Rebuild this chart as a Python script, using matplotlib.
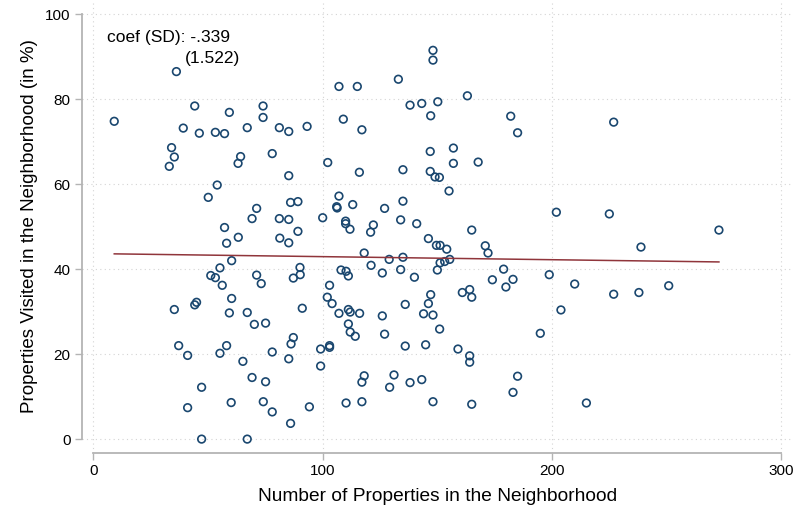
import matplotlib
matplotlib.use("Agg")
import matplotlib.pyplot as plt

plt.rcParams['font.family'] = ['Liberation Sans', 'DejaVu Sans']

# Anzahl Objekte im Viertel / besuchte Objekte (%)
n_props = [
    36.2, 44.2, 59.3, 74.0, 74.0, 9.1, 39.2, 46.2, 53.2, 57.2,
    67.1, 81.1, 85.2, 34.1, 35.3, 33.1, 64.2, 63.1, 78.0, 85.2,
    54.0, 50.1, 71.2, 69.2, 81.1, 85.2, 86.0, 89.2, 57.2, 148.1,
    148.1, 133.0, 107.1, 115.1, 163.1, 138.1, 143.2, 150.2, 147.1, 109.0,
    117.1, 93.2, 146.9, 157.0, 157.0, 167.8, 102.2, 116.0, 135.0, 146.9,
    149.0, 150.9, 155.1, 107.1, 106.1, 106.3, 113.1, 127.0, 135.0, 100.0,
    110.0, 110.0, 111.9, 122.1, 134.0, 141.0, 89.2, 120.9, 165.0, 81.3,
    85.2, 146.1, 149.6, 151.2, 154.1, 118.1, 129.0, 135.0, 121.1, 151.2,
    153.2, 155.4, 150.0, 90.1, 90.2, 87.2, 108.0, 110.2, 111.2, 126.0,
    134.0, 140.0, 103.0, 102.0, 104.1, 91.1, 107.1, 111.2, 112.0, 116.1,
    126.0, 136.0, 147.1, 146.1, 144.0, 148.1, 151.0, 160.9, 164.1, 165.0,
    111.2, 112.0, 114.2, 127.0, 87.2, 86.2, 103.0, 103.0, 99.1, 136.0,
    144.9, 159.0, 164.1, 164.1, 85.2, 99.1, 118.1, 117.1, 131.1, 129.2,
    138.1, 143.2, 94.2, 110.2, 117.1, 148.1, 165.0, 86.0, 63.2, 58.1,
    60.3, 55.2, 51.2, 53.2, 56.2, 71.2, 73.2, 60.3, 45.0, 44.2,
    35.3, 59.3, 67.1, 70.2, 75.1, 37.2, 41.1, 58.1, 55.2, 65.2,
    78.0, 69.2, 75.1, 47.2, 41.1, 60.1, 74.1, 78.0, 47.2, 67.1,
    182.0, 185.0, 226.9, 201.9, 225.0, 272.8, 170.9, 172.1, 238.8, 178.9,
    174.0, 183.0, 179.9, 198.8, 209.9, 226.9, 237.9, 250.9, 203.9, 194.9,
    185.0, 183.0, 215.0,
]
visited = [
    86.5, 78.4, 76.9, 78.4, 75.7, 74.8, 73.2, 72.0, 72.2, 71.9,
    73.3, 73.3, 72.4, 68.6, 66.4, 64.2, 66.5, 64.9, 67.2, 62.0,
    59.8, 56.9, 54.3, 51.9, 51.9, 51.7, 55.7, 55.9, 49.8, 91.5,
    89.2, 84.7, 83.0, 83.0, 80.8, 78.6, 79.0, 79.4, 76.1, 75.3,
    72.8, 73.6, 67.7, 68.5, 64.9, 65.2, 65.1, 62.8, 63.4, 63.0,
    61.7, 61.6, 58.4, 57.2, 54.7, 54.4, 55.2, 54.3, 56.0, 52.1,
    51.3, 50.7, 49.4, 50.4, 51.6, 50.7, 48.9, 48.7, 49.2, 47.3,
    46.2, 47.2, 45.6, 45.6, 44.7, 43.8, 42.3, 42.8, 40.9, 41.5,
    41.8, 42.3, 39.8, 40.4, 38.7, 37.9, 39.8, 39.5, 38.4, 39.1,
    39.9, 38.1, 36.2, 33.4, 31.9, 30.8, 29.6, 30.5, 29.9, 29.6,
    29.0, 31.7, 34.0, 31.9, 29.5, 29.2, 25.9, 34.5, 35.2, 33.4,
    27.1, 25.2, 24.2, 24.7, 23.9, 22.4, 22.0, 21.6, 21.2, 21.9,
    22.2, 21.2, 19.6, 18.1, 18.9, 17.2, 14.9, 13.4, 15.1, 12.2,
    13.3, 14.0, 7.6, 8.5, 8.8, 8.8, 8.2, 3.7, 47.5, 46.1,
    42.0, 40.3, 38.5, 38.0, 36.2, 38.6, 36.6, 33.1, 32.2, 31.6,
    30.5, 29.7, 29.8, 27.0, 27.3, 22.0, 19.7, 22.0, 20.2, 18.3,
    20.5, 14.5, 13.5, 12.2, 7.4, 8.6, 8.8, 6.4, 0.0, 0.0,
    76.0, 72.1, 74.6, 53.4, 53.0, 49.2, 45.5, 43.8, 45.2, 40.0,
    37.5, 37.6, 35.8, 38.7, 36.5, 34.1, 34.5, 36.1, 30.4, 24.9,
    14.8, 11.0, 8.5,
]

# lineare Anpassung (Endpunkte)
fit_x = [9.1, 272.8]
fit_y = [43.6, 41.7]

coef_text = "coef (SD): -.339"
sd_text = "(1.522)"

x_ticks = [0, 100, 200, 300]
y_ticks = [0, 20, 40, 60, 80, 100]

navy = "#1a476f"
maroon = "#90353b"
axis_grey = "#b4b4b4"

fig = plt.figure(figsize=(7.93, 5.09), dpi=100)
ax = fig.add_axes([0.103, 0.1106, 0.897, 0.889])

ax.scatter(n_props, visited, s=30, facecolors="none", edgecolors=navy,
           linewidths=1.2, zorder=3)
ax.plot(fit_x, fit_y, color=maroon, lw=1.1, zorder=4)

ax.set_xlim(-5.1, 305.1)
ax.set_ylim(-3.2, 103.3)
ax.set_xticks(x_ticks)
ax.set_yticks(y_ticks)

ax.grid(True, color="#d4d4d4", linestyle=(0, (1, 3)), linewidth=0.8)
ax.set_axisbelow(True)

for side in ["top", "right"]:
    ax.spines[side].set_visible(False)
ax.spines["left"].set_bounds(0, 100)
ax.spines["bottom"].set_bounds(0, 300)
for side in ["left", "bottom"]:
    ax.spines[side].set_color(axis_grey)
    ax.spines[side].set_linewidth(1.3)

ax.tick_params(axis="both", direction="out", length=5, width=1.0,
               color=axis_grey, labelsize=11, labelcolor="black", pad=3)

ax.set_xlabel("Number of Properties in the Neighborhood", fontsize=13.8,
              labelpad=7)
ax.set_ylabel("Properties Visited in the Neighborhood (in %)", fontsize=13.5,
              labelpad=5)

ax.text(5.9, 94.6, coef_text, fontsize=12.5, va="center", ha="left")
ax.text(40.0, 89.6, sd_text, fontsize=12.5, va="center", ha="left")

fig.savefig("out.png", dpi=100)
